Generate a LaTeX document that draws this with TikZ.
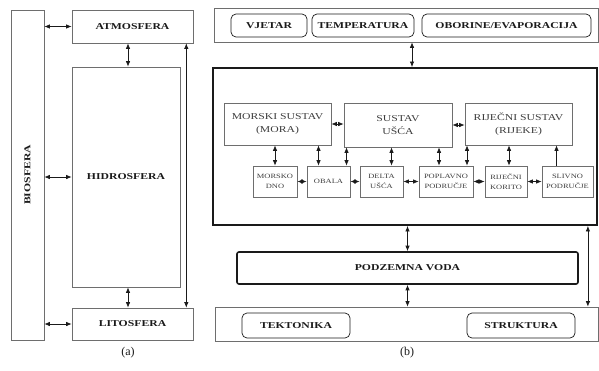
\documentclass[tikz,border=0pt]{standalone}
\usepackage{fontspec}
\setmainfont{Liberation Serif}
\newfontfamily\labfont[FakeStretch=1.3]{Liberation Serif}
\usepackage{tikz}
\usetikzlibrary{arrows.meta,positioning,calc}
\definecolor{ink}{HTML}{1A1A1A}
\definecolor{rule}{HTML}{6E6E6E}
\tikzset{
  % Spheres (panel a) and boxes with bold captions
  sphere/.style={draw=rule,line width=0.6pt,align=center,inner sep=1pt,
                 text=ink,font=\labfont\bfseries\fontsize{9}{10}\selectfont},
  % Frames holding the factors (panel b)
  holder/.style={draw=rule,line width=0.6pt,inner sep=0pt},
  bigbox/.style={draw=ink,line width=1.8pt,inner sep=0pt},
  % Sub-systems and units inside the big box
  subsys/.style={draw=rule,line width=0.6pt,align=center,inner sep=1pt,
                 text=ink!85,font=\labfont\fontsize{9}{13}\selectfont},
  unit/.style={draw=rule,line width=0.6pt,align=center,inner sep=1pt,
               text=ink!85,font=\labfont\fontsize{6.5}{10}\selectfont},
  % Rounded factor boxes
  factor/.style={draw=ink,line width=0.7pt,rounded corners=5pt,align=center,
                 inner sep=1pt,text=ink,font=\labfont\bfseries\fontsize{9}{10}\selectfont},
  % Connectors & captions
  fl/.style={{Latex[length=5.5pt,width=4.4pt]}-{Latex[length=5.5pt,width=4.4pt]},ink,line width=0.7pt},
  fl1/.style={-{Latex[length=5.5pt,width=4.4pt]},ink,line width=0.7pt},
  capt/.style={font=\fontsize{12}{14}\selectfont,text=ink}
}

\begin{document}
\begin{tikzpicture}[x=1pt,y=-1pt]
  \useasboundingbox (0,0) rectangle (599,370);

  % ---- panel (a)
  \node[sphere,minimum width=33pt,minimum height=330pt] (bio) at (27.5,175) {};
  \node[rotate=90,font=\labfont\bfseries\fontsize{9}{10}\selectfont,text=ink] (biot) at (bio.center) {BIOSFERA};
  \node[sphere,minimum width=121pt,minimum height=33pt] (atm) at (132.5,26.5) {ATMOSFERA};
  \node[sphere,minimum width=108pt,minimum height=220pt] (hid) at (126,177) {HIDROSFERA};
  \node[sphere,minimum width=121pt,minimum height=32pt] (lit) at (132.5,324) {LITOSFERA};

  % BIO <-> spheres
  \draw[fl] (bio.east |- atm.west) -- (atm.west);
  \draw[fl] (bio.east |- hid.west) -- (hid.west);
  \draw[fl] (bio.east |- lit.west) -- (lit.west);
  % ATM <-> HID <-> LIT
  \draw[fl] ([xshift=2pt]hid.north) -- ([xshift=2pt]hid.north |- atm.south);
  \draw[fl] ([xshift=2pt]hid.south) -- ([xshift=2pt]hid.south |- lit.north);
  \draw[fl] ([xshift=-7pt]atm.south east) -- ([xshift=-7pt]lit.north east);

  \node[capt] (capa) at (128,353) {(a)};

  % ---- panel (b)
  \node[holder,minimum width=384pt,minimum height=34pt] (clim) at (406,25) {};
  \node[factor,minimum width=76pt,minimum height=23pt] (vjetar) at (269,25.5) {VJETAR};
  \node[factor,minimum width=102pt,minimum height=23pt] (temp) at (363,25.5) {TEMPERATURA};
  \node[factor,minimum width=169pt,minimum height=23pt] (obor) at (506.5,25.5) {OBORINE/EVAPORACIJA};

  \node[bigbox,minimum width=384pt,minimum height=157pt] (sys) at (405,146.5) {};
  \node[subsys,minimum width=107pt,minimum height=42pt] (mora) at (277.5,124) {MORSKI SUSTAV\\(MORA)};
  \node[subsys,minimum width=108pt,minimum height=44pt] (usca) at (398,125) {SUSTAV\\UŠĆA};
  \node[subsys,minimum width=107pt,minimum height=42pt] (rijeke) at (518.5,124) {RIJEČNI SUSTAV\\(RIJEKE)};

  \node[unit,minimum width=44pt,minimum height=31pt] (dno) at (275,181.5) {MORSKO\\DNO};
  \node[unit,minimum width=43pt,minimum height=31pt] (obala) at (328.5,181.5) {OBALA};
  \node[unit,minimum width=43pt,minimum height=31pt] (delta) at (381.5,181.5) {DELTA\\UŠĆA};
  \node[unit,minimum width=54pt,minimum height=31pt] (poplav) at (446,181.5) {POPLAVNO\\PODRUČJE};
  \node[unit,minimum width=42pt,minimum height=31pt] (korito) at (506,181.5) {RIJEČNI\\KORITO};
  \node[unit,minimum width=51pt,minimum height=31pt] (slivno) at (567.5,181.5) {SLIVNO\\PODRUČJE};

  % sub-systems side by side
  \draw[fl] (mora.east) -- (mora.east -| usca.west);
  \draw[fl] (usca.east) -- (usca.east -| rijeke.west);
  % units side by side
  \draw[fl] (dno.east) -- (obala.west);
  \draw[fl] (obala.east) -- (delta.west);
  \draw[fl] (delta.east) -- (poplav.west);
  \draw[fl] (poplav.east) -- (korito.west);
  \draw[fl] (korito.east) -- (slivno.west);
  % sub-systems <-> units
  \draw[fl] (dno.north) -- (dno.north |- mora.south);
  \draw[fl] ([xshift=-10pt]obala.north) -- ([xshift=-10pt]obala.north |- mora.south);
  \draw[fl] ([xshift=18pt]obala.north) -- ([xshift=18pt]obala.north |- usca.south);
  \draw[fl] ([xshift=10pt]delta.north) -- ([xshift=10pt]delta.north |- usca.south);
  \draw[fl] ([xshift=-7pt]poplav.north) -- ([xshift=-7pt]poplav.north |- usca.south);
  \draw[fl] ([xshift=21pt]poplav.north) -- ([xshift=21pt]poplav.north |- rijeke.south);
  \draw[fl] ([xshift=3pt]korito.north) -- ([xshift=3pt]korito.north |- rijeke.south);
  \draw[fl1] ([xshift=-11pt]slivno.north) -- ([xshift=-11pt]slivno.north |- rijeke.south);

  \node[sphere,line width=1.6pt,draw=ink,rounded corners=2pt,minimum width=341pt,minimum height=32pt] (podz) at (407.5,268) {PODZEMNA VODA};

  \node[holder,minimum width=383pt,minimum height=34pt] (geo) at (407,324) {};
  \node[factor,minimum width=108pt,minimum height=25pt] (tekt) at (296,325.5) {TEKTONIKA};
  \node[factor,minimum width=108pt,minimum height=25pt] (strukt) at (521,325.5) {STRUKTURA};

  % climate -> system -> ground water -> geology
  \draw[fl] ([xshift=6pt]clim.south) -- ([xshift=6pt]clim.south |- sys.north);
  \draw[fl] (podz.north) -- (podz.north |- sys.south);
  \draw[fl] (podz.south) -- (podz.south |- geo.north);
  \draw[fl] ([xshift=-10pt]sys.south east) -- ([xshift=-10pt]sys.south east |- geo.north);

  \node[capt] (capb) at (407,353) {(b)};
\end{tikzpicture}
\end{document}
